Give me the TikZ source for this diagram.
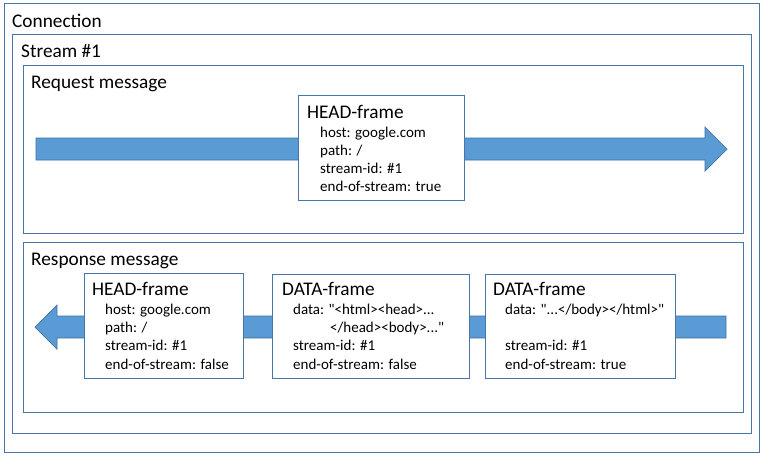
\documentclass[tikz,border=0pt]{standalone}
\usepackage{fontspec}
\setmainfont{Carlito}
\definecolor{bordc}{RGB}{72,118,168}
\definecolor{arrowc}{RGB}{91,155,213}
\definecolor{arrowbord}{RGB}{65,113,156}
\begin{document}
\begin{tikzpicture}[x=1pt,y=-1pt,
  box/.style={draw=bordc,line width=1pt,fill=white,inner sep=0pt,outer sep=0pt,anchor=north west},
  ttl/.style={anchor=base west,inner sep=0pt,font=\fontsize{19.3}{22}\selectfont},
  bt/.style={anchor=base west,inner sep=0pt,font=\fontsize{15}{18}\selectfont},
  fat/.style={fill=arrowc,draw=arrowbord,line width=0.7pt,line join=miter}]
\useasboundingbox (0,0) rectangle (765,459);
% containers
\node[box,minimum width=755pt,minimum height=449pt] (conn) at (4,3) {};
\node[ttl] (connT) at (12,27) {Connection};
\node[box,minimum width=739pt,minimum height=399pt] (stream) at (12,34) {};
\node[ttl] (streamT) at (21,57) {Stream \#1};
\node[box,minimum width=720pt,minimum height=168pt] (req) at (23,65) {};
\node[ttl] (reqT) at (31,88) {Request message};
\node[box,minimum width=720pt,minimum height=170pt] (resp) at (23,242) {};
\node[ttl] (respT) at (31,265) {Response message};
% arrows
\draw[fat] (36,138) -- (705,138) -- (705,127) -- (727,149) -- (705,171) -- (705,160) -- (36,160) -- cycle;
\draw[fat] (726,316) -- (57,316) -- (57,305) -- (35,327) -- (57,349) -- (57,338) -- (726,338) -- cycle;
% request HEAD frame
\node[box,minimum width=166pt,minimum height=105pt] (rqh) at (298,95) {};
\node[ttl] (rqhT) at (307,118) {HEAD-frame};
\node[bt] (rqh1) at (320,137) {host: google.com};
\node[bt] (rqh2) at (320,155) {path: /};
\node[bt] (rqh3) at (320,173) {stream-id: \#1};
\node[bt] (rqh4) at (320,191) {end-of-stream: true};
% response HEAD frame
\node[box,minimum width=159pt,minimum height=105pt] (rsh) at (84,273) {};
\node[ttl] (rshT) at (92,295) {HEAD-frame};
\node[bt] (rsh1) at (105,314) {host: google.com};
\node[bt] (rsh2) at (105,332) {path: /};
\node[bt] (rsh3) at (105,350) {stream-id: \#1};
\node[bt] (rsh4) at (105,369) {end-of-stream: false};
% DATA frame 1
\node[box,minimum width=197pt,minimum height=104pt] (d1) at (272,274) {};
\node[ttl] (d1T) at (282,295) {DATA-frame};
\node[bt] (d11) at (293,314) {data: \textquotedbl<html><head>...};
\node[bt] (d12) at (330,332) {</head><body>...\textquotedbl};
\node[bt] (d13) at (293,350) {stream-id: \#1};
\node[bt] (d14) at (293,369) {end-of-stream: false};
% DATA frame 2
\node[box,minimum width=190pt,minimum height=104pt] (d2) at (485,274) {};
\node[ttl] (d2T) at (493,295) {DATA-frame};
\node[bt] (d21) at (505,314) {data: \textquotedbl...</body></html>\textquotedbl};
\node[bt] (d23) at (505,350) {stream-id: \#1};
\node[bt] (d24) at (505,369) {end-of-stream: true};
\end{tikzpicture}
\end{document}
